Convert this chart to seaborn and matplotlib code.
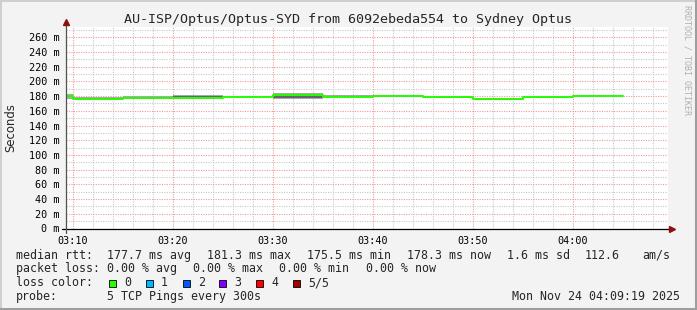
import numpy as np
import pandas as pd
import matplotlib
matplotlib.use("Agg")
import matplotlib.pyplot as plt
import seaborn as sns
from matplotlib.patches import Rectangle
from matplotlib.lines import Line2D

# ---------------- data ----------------
seg_start = ["03:05", "03:10", "03:15", "03:20", "03:25", "03:30",
             "03:35", "03:40", "03:45", "03:50", "03:55", "04:00"]
median_ms = [179.6, 176.6, 177.8, 177.6, 178.7, 181.3,
             178.8, 180.3, 178.8, 175.5, 178.4, 180.6]
ping_1 = [176.5, 174.6, 176.0, 176.9, 177.8, 176.6, 177.8, 178.6, 177.0, 174.4, 177.4, 179.3]
ping_2 = [178.3, 175.4, 176.9, 177.2, 178.3, 177.8, 178.3, 179.4, 177.9, 175.0, 177.9, 179.9]
ping_4 = [180.7, 177.6, 179.0, 180.2, 179.3, 182.7, 180.3, 181.1, 179.4, 176.4, 178.8, 181.3]
ping_5 = [182.4, 178.8, 180.2, 182.0, 180.0, 184.6, 181.2, 181.8, 180.2, 177.6, 179.2, 182.0]
x_tick_labels = ["03:10", "03:20", "03:30", "03:40", "03:50", "04:00"]
y_tick_values = list(range(0, 261, 20))

title = "AU-ISP/Optus/Optus-SYD from 6092ebeda554 to Sydney Optus"
loss_labels = ["0", "1", "2", "3", "4", "5/5"]
loss_colors = ["#26ff00", "#00b8ff", "#0059ff", "#7e00ff", "#ff0000", "#a00000"]

# ---------------- helpers ----------------
W, H = 697, 310
def fx(px):
    return px / W
def fy(py):
    return 1 - py / H
def to_min(s):
    h, m = s.split(":")
    return (int(h) - 3) * 60 + int(m)

starts = [to_min(s) for s in seg_start]
xs = starts + [starts[-1] + 5]
def ext(v):
    return list(v) + [v[-1]]

df = pd.DataFrame({"t": xs, "median": ext(median_ms)})

sns.set_theme(style="white")
plt.rcParams["font.family"] = ["DejaVu Sans Mono", "DejaVu Sans"]

fig = plt.figure(figsize=(W / 100, H / 100), dpi=100)
fig.patch.set_facecolor("#f3f3f3")

ax_l, ax_r, ax_t, ax_b = 66, 668, 27, 228.5
ax = fig.add_axes([fx(ax_l), fy(ax_b), (ax_r - ax_l) / W, (ax_b - ax_t) / H])
ax.set_facecolor("white")

x_left = 10 - (72.8 - ax_l) / 10
x_right = 10 + (ax_r - 72.8) / 10
ax.set_xlim(x_left, x_right)
ax.set_ylim(0, 274)

# grid
ax.set_xticks([to_min(s) for s in x_tick_labels])
ax.set_xticklabels(x_tick_labels)
ax.set_xticks(np.arange(10, 70, 2), minor=True)
ax.set_yticks(y_tick_values)
ax.set_yticklabels([f"{v} m" for v in y_tick_values])
ax.set_yticks(np.arange(10, 271, 10), minor=True)
ax.grid(which="minor", color="#c8c8c8", linewidth=0.8, linestyle=(0, (1, 1.2)))
ax.grid(which="major", color="#f09a9a", linewidth=0.8, linestyle=(0, (1, 1.2)))
ax.set_axisbelow(True)

ax.tick_params(axis="both", which="both", labelsize=7.3, colors="#606060",
               labelcolor="black")
ax.tick_params(axis="y", which="both", length=2.2, width=0.7, pad=2.5, direction="out")
ax.tick_params(axis="x", which="major", length=2.2, width=0.7, pad=3, direction="out")
ax.tick_params(axis="x", which="minor", length=0)
for s in ax.spines.values():
    s.set_visible(False)

# smoke
layers = [ping_1, ping_2, median_ms, ping_4, ping_5]
shades = ["#a8a8a8", "#666666", "#666666", "#a8a8a8"]
for i in range(4):
    ax.fill_between(xs, ext(layers[i]), ext(layers[i + 1]), step="post",
                    color=shades[i], linewidth=0, zorder=2)

# median line
sns.lineplot(data=df, x="t", y="median", ax=ax, color=loss_colors[0],
             linewidth=1.4, drawstyle="steps-post", estimator=None, zorder=3)
ax.set_xlabel("")
ax.set_ylabel("")

# axes lines with arrows
ax.add_line(Line2D([-4 / (ax_r - ax_l), 1.004], [0, 0], transform=ax.transAxes,
                   color="black", lw=0.9, clip_on=False, zorder=5))
ax.add_line(Line2D([0, 0], [-4 / (ax_b - ax_t), 1.02], transform=ax.transAxes,
                   color="#505050", lw=0.9, clip_on=False, zorder=5))
ax.plot([1.006], [0], marker=">", ms=4.5, color="#8b1010", transform=ax.transAxes,
        clip_on=False, zorder=6)
ax.plot([0], [1.025], marker="^", ms=4.5, color="#8b1010", transform=ax.transAxes,
        clip_on=False, zorder=6)

# texts
fig.text(fx(348), fy(19), title, ha="center", va="center", fontsize=9.6)
fig.text(fx(11), fy(127.5), "Seconds", rotation=90, ha="center", va="center",
         fontsize=8.4, family="DejaVu Sans")
fig.text(fx(687.5), fy(5), "RRDTOOL / TOBI OETIKER", rotation=270, ha="center",
         va="top", fontsize=6, color="#b0b0b0")

fs = 8.4
row1 = [(16, "median rtt:"), (107.3, "177.7 ms avg"), (207.3, "181.3 ms max"),
        (307.3, "175.5 ms min"), (407.3, "178.3 ms now"), (507.3, "1.6 ms sd"),
        (585, "112.6"), (642.7, "am/s")]
row2 = [(16, "packet loss:"), (107.3, "0.00 % avg"), (193.3, "0.00 % max"),
        (279.3, "0.00 % min"), (365.7, "0.00 % now")]
for px, s in row1:
    fig.text(fx(px), fy(255.5), s, ha="left", va="center", fontsize=fs)
for px, s in row2:
    fig.text(fx(px), fy(268.8), s, ha="left", va="center", fontsize=fs)
fig.text(fx(16), fy(283), "loss color:", ha="left", va="center", fontsize=fs)
box_x = [108.7, 145.7, 182.7, 219.3, 256.3, 293.3]
lab_x = [124, 161, 197.7, 234.3, 271, 308]
for bx, lx, lab, c in zip(box_x, lab_x, loss_labels, loss_colors):
    fig.add_artist(Rectangle((fx(bx), fy(286.5)), 7 / W, 7 / H, transform=fig.transFigure,
                             facecolor=c, edgecolor="black", linewidth=0.6))
    fig.text(fx(lx), fy(283), lab, ha="left", va="center", fontsize=fs)
fig.text(fx(16), fy(296.5), "probe:", ha="left", va="center", fontsize=fs)
fig.text(fx(107.3), fy(296.5), "5 TCP Pings every 300s", ha="left", va="center", fontsize=fs)
fig.text(fx(680), fy(296.5), "Mon Nov 24 04:09:19 2025", ha="right", va="center", fontsize=fs)

# 3D frame
fig.add_artist(Line2D([0, 1], [fy(0.5), fy(0.5)], transform=fig.transFigure, color="#cfcfcf", lw=1.4))
fig.add_artist(Line2D([fx(0.5), fx(0.5)], [0, 1], transform=fig.transFigure, color="#cfcfcf", lw=1.4))
fig.add_artist(Line2D([0, 1], [fy(309), fy(309)], transform=fig.transFigure, color="#9e9e9e", lw=2.2))
fig.add_artist(Line2D([fx(696), fx(696)], [0, 1], transform=fig.transFigure, color="#9e9e9e", lw=2.2))

fig.savefig("out.png", dpi=100, facecolor=fig.get_facecolor())
